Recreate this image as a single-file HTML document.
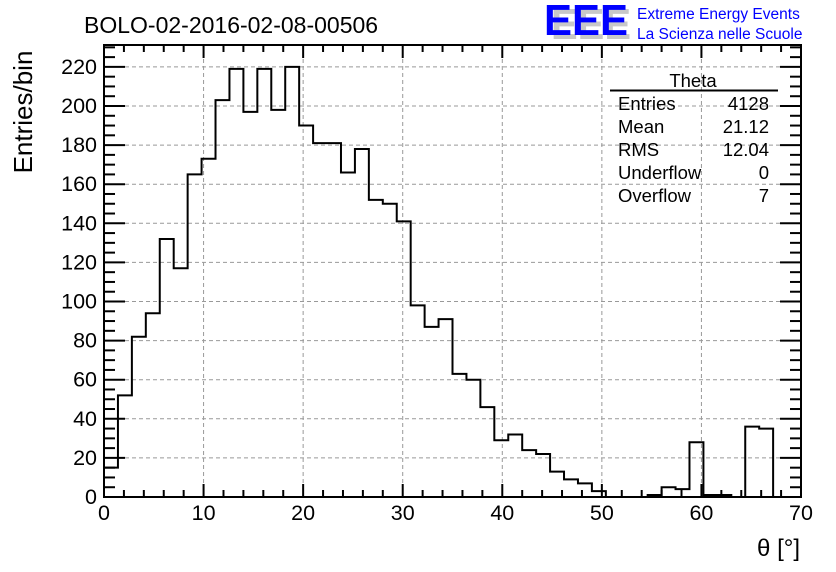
<!DOCTYPE html>
<html><head><meta charset="utf-8"><style>
body{margin:0;background:#fff}
svg{display:block;font-family:"Liberation Sans",sans-serif}
</style></head><body>
<svg id="c" width="836" height="572">
<text x="84" y="33" font-size="23">BOLO-02-2016-02-08-00506</text>
<g>
<text x="551" y="39" font-size="44" font-weight="bold" fill="#c8c8c8" textLength="80" lengthAdjust="spacingAndGlyphs">EEE</text>
<text x="544" y="35" font-size="44" font-weight="bold" fill="#0000ff" textLength="84" lengthAdjust="spacingAndGlyphs">EEE</text>
<text x="637" y="19" font-size="15.5" fill="#0000ff">Extreme Energy Events</text>
<text x="637" y="39" font-size="15.5" fill="#0000ff">La Scienza nelle Scuole</text>
</g>
<text transform="translate(32,112) rotate(-90)" text-anchor="middle" font-size="26">Entries/bin</text>
<text x="800" y="556" text-anchor="end" font-size="24">θ [°]</text>
<g id="grid"></g><g id="axes"></g><g id="marks"></g>
<rect x="104" y="45" width="697" height="452" fill="none" stroke="#000" stroke-width="2"/>
<g font-size="18.5">
<text x="693" y="87" text-anchor="middle">Theta</text>
<line x1="610" y1="90.5" x2="778" y2="90.5" stroke="#000" stroke-width="2"/>
<text x="618" y="110">Entries</text><text x="769" y="110" text-anchor="end">4128</text>
<text x="618" y="133">Mean</text><text x="769" y="133" text-anchor="end">21.12</text>
<text x="618" y="156">RMS</text><text x="769" y="156" text-anchor="end">12.04</text>
<text x="618" y="179">Underflow</text><text x="769" y="179" text-anchor="end">0</text>
<text x="618" y="202">Overflow</text><text x="769" y="202" text-anchor="end">7</text>
</g>
</svg>
<script>
const binLow = 0, binWidth = 1.4;
const counts = [15,52,82,94,132,117,165,173,203,219,197,219,198,220,190,181,181,166,178,152,150,141,98,87,91,63,60,46,29,32,24,22,13,9,7,3,0,0,0,1,5,4,28,1,1,0,36,35,0,0];
const xTicks = [0,10,20,30,40,50,60,70];
const yTicks = [0,20,40,60,80,100,120,140,160,180,200,220];
const X0=104,X1=801,Y0=497,Y1=45,XMAX=70,YMAX=231.2;
const sx=v=>X0+(X1-X0)*v/XMAX, sy=v=>Y0-(Y0-Y1)*v/YMAX;
const NS='http://www.w3.org/2000/svg';
function mk(p,t,a){const e=document.createElementNS(NS,t);for(const k in a)e.setAttribute(k,a[k]);p.appendChild(e);return e;}
const grid=document.getElementById('grid'),axes=document.getElementById('axes'),marks=document.getElementById('marks');
xTicks.forEach(v=>{
 if(v>0&&v<70){const g=mk(grid,'line',{x1:sx(v),x2:sx(v),y1:Y1,y2:Y0,stroke:'#999','stroke-dasharray':'4,3'});
 
 }
 const t=mk(axes,'text',{x:sx(v),y:520,'text-anchor':'middle','font-size':21.5});t.textContent=v;
 
 
});
yTicks.forEach(v=>{
 if(v>0){const g=mk(grid,'line',{x1:X0,x2:X1,y1:sy(v),y2:sy(v),stroke:'#999','stroke-dasharray':'4,3'});
 
 }
 const t=mk(axes,'text',{x:97,y:sy(v)+7,'text-anchor':'end','font-size':21.5});t.textContent=v;
 
 
});
for(let v=0;v<=70;v+=2){const L=v%10===0?13:7;
 mk(axes,'line',{x1:sx(v),x2:sx(v),y1:Y0,y2:Y0-L,stroke:'#000','stroke-width':2});
 mk(axes,'line',{x1:sx(v),x2:sx(v),y1:Y1,y2:Y1+L,stroke:'#000','stroke-width':2});}
for(let v=0;v<=230;v+=5){const L=v%20===0?21:11;
 mk(axes,'line',{x1:X0,x2:X0+L,y1:sy(v),y2:sy(v),stroke:'#000','stroke-width':2});
 mk(axes,'line',{x1:X1,x2:X1-L,y1:sy(v),y2:sy(v),stroke:'#000','stroke-width':2});}
let d='M'+sx(binLow)+','+sy(0);
counts.forEach((c,i)=>{const a=sx(binLow+i*binWidth),b=sx(binLow+(i+1)*binWidth);d+=' L'+a+','+sy(c)+' L'+b+','+sy(c);});
d+=' L'+sx(binLow+counts.length*binWidth)+','+sy(0);
const p=mk(marks,'path',{d:d,fill:'none',stroke:'#000','stroke-width':2});


</script>
</body></html>
